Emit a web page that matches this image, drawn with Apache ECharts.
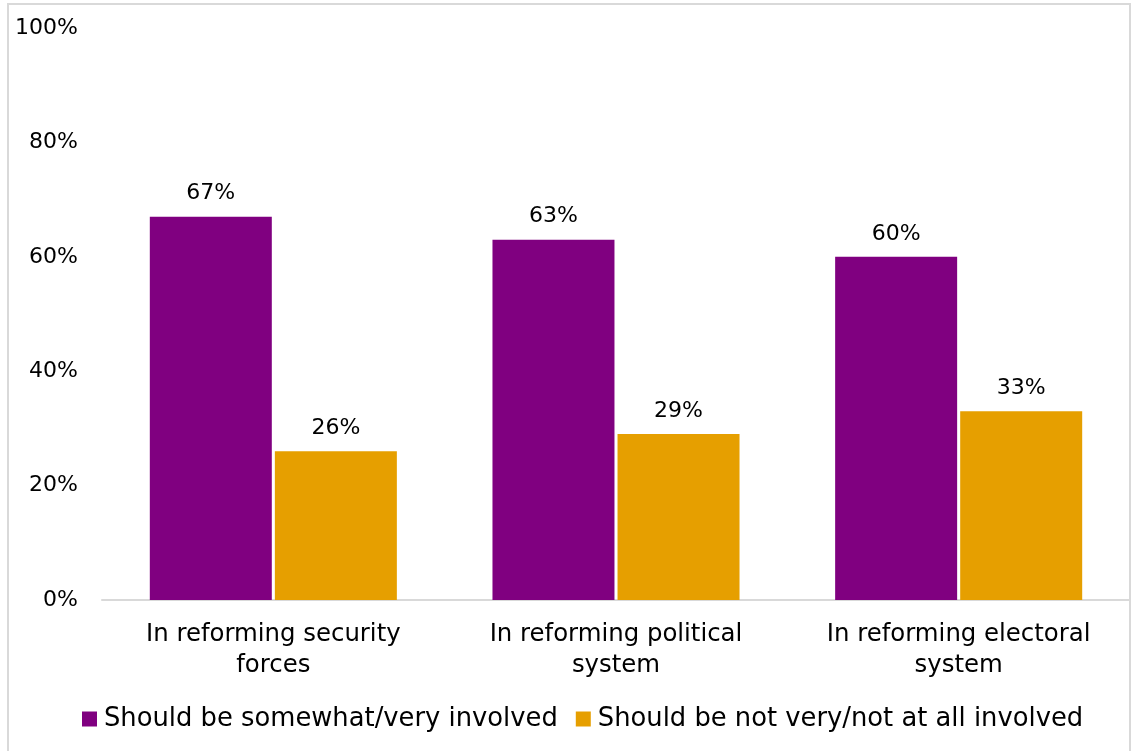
<!DOCTYPE html>
<html><head><meta charset="utf-8">
<script src="https://cdn.jsdelivr.net/npm/echarts@6/dist/echarts.min.js"></script>
<style>html,body{margin:0;padding:0;background:#fff}#c{width:1134px;height:751px}</style>
</head><body><div id="c"></div>
<script>
const categories = ["In reforming security forces", "In reforming political system", "In reforming electoral system"];
const involved = [67, 63, 60];
const notInvolved = [26, 29, 33];
const seriesNames = ["Should be somewhat/very involved", "Should be not very/not at all involved"];
const yTicks = [0, 20, 40, 60, 80, 100];

const FONT = "DejaVu Sans";
const chart = echarts.init(document.getElementById('c'));
chart.setOption({
  animation: false,
  textStyle: {fontFamily: FONT},
  graphic: [{type: 'rect', shape: {x: 8, y: 4, width: 1122, height: 770}, style: {fill: 'none', stroke: '#d9d9d9', lineWidth: 2}, silent: true}],
  grid: {left: 102, right: 4, top: 28, bottom: 151},
  legend: {
    top: 701, left: 77, itemWidth: 15, itemHeight: 15, itemGap: 18,
    icon: 'rect',
    textStyle: {fontSize: 25.8, color: '#000', fontFamily: FONT, padding: [0,0,0,2]},
    data: seriesNames
  },
  xAxis: {
    type: 'category', data: categories,
    axisLine: {lineStyle: {color: '#d9d9d9', width: 2}},
    axisTick: {show: false},
    axisLabel: {fontSize: 24.4, color: '#000', lineHeight: 31, margin: 19, interval: 0,
      formatter: v => { const i = v.lastIndexOf(' '); return v.slice(0, i) + '\n' + v.slice(i + 1); }}
  },
  yAxis: {
    type: 'value', min: 0, max: 100, interval: 20,
    splitLine: {show: false}, axisLine: {show: false}, axisTick: {show: false},
    axisLabel: {fontSize: 22, color: '#000', margin: 24, formatter: v => yTicks.includes(v) ? v + '%' : ''}
  },
  series: [
    {name: seriesNames[0], type: 'bar', data: involved, barWidth: 122, barGap: '2.5%',
     itemStyle: {color: '#800080'},
     label: {show: true, position: 'top', distance: 12, fontSize: 22, color: '#000', formatter: p => p.value + '%'}},
    {name: seriesNames[1], type: 'bar', data: notInvolved, barWidth: 122,
     itemStyle: {color: '#E69F00'},
     label: {show: true, position: 'top', distance: 12, fontSize: 22, color: '#000', formatter: p => p.value + '%'}}
  ]
});
</script></body></html>
